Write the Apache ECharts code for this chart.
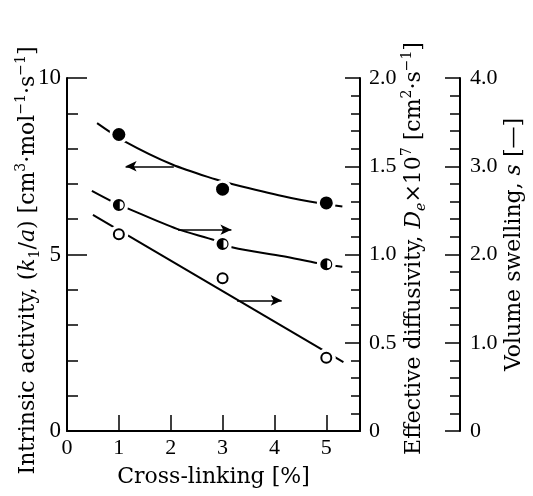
<!DOCTYPE html>
<html>
<head>
<meta charset="utf-8">
<script src="https://cdn.jsdelivr.net/npm/echarts@6/dist/echarts.min.js"></script>
<style>
  html, body { margin: 0; padding: 0; background: #fff; }
  #chart { width: 533px; height: 496px; }
</style>
</head>
<body>
<div id="chart"></div>
<script>
// measured points (cross-linking %, value)
const crossLinking = [1, 3, 5];
const activity = [8.4, 6.85, 6.46];      // k1/a, left axis
const diffusivity = [1.28, 1.06, 0.945]; // De x 10^7, right axis
const swelling = [2.23, 1.73, 0.83];     // s, outer right axis

// fitted curves
const activityCurve = [[0.58, 8.72], [1.12, 8.2], [2.03, 7.55], [2.86, 7.13], [3.2, 6.99], [4.17, 6.65], [4.88, 6.45], [5.31, 6.36]];
const diffusivityCurve = [[0.48, 1.36], [0.87, 1.3], [1.18, 1.26], [2.12, 1.145], [2.86, 1.08], [3.2, 1.04], [4.17, 0.99], [4.85, 0.95], [5.31, 0.93]];
const swellingLine = [[0.5, 2.45], [5.33, 0.78]];

// arrows pointing to the axis each series belongs to
const activityArrow = [[2.06, 7.5], [1.13, 7.5]];
const diffusivityArrow = [[2.14, 1.14], [3.17, 1.14]];
const swellingArrow = [[3.28, 1.48], [4.14, 1.48]];

const xTicks = [0, 1, 2, 3, 4, 5];

const serif = 'Liberation Serif, Times New Roman, serif';
const nameFont = 'DejaVu Serif';
const halfSymbol = 'path://M10,0A10,10 0 1,1 10,20A10,10 0 1,1 10,0Z M11.5,3.5L11.5,16.5A6.5,6.5 0 0,0 11.5,3.5Z';

const pts = (ys) => crossLinking.map((x, i) => [x, ys[i]]);

const nameRich = {
  n: { fontFamily: nameFont, fontSize: 22, lineHeight: 28, color: '#000' },
  i: { fontFamily: nameFont, fontSize: 22, lineHeight: 28, fontStyle: 'italic', color: '#000' },
  sup: { fontFamily: nameFont, fontSize: 14, lineHeight: 14, verticalAlign: 'top', color: '#000' },
  sub: { fontFamily: nameFont, fontSize: 14, lineHeight: 14, verticalAlign: 'bottom', color: '#000' },
  isub: { fontFamily: nameFont, fontSize: 14, lineHeight: 14, verticalAlign: 'bottom', fontStyle: 'italic', color: '#000' }
};

const blackLine = { lineStyle: { color: '#000', width: 2 } };

const arrow = (pair) => ({
  silent: true,
  symbol: ['none', 'arrow'],
  symbolSize: [8, 11],
  label: { show: false },
  lineStyle: { color: '#000', width: 1.5, type: 'solid' },
  data: [[{ coord: pair[0] }, { coord: pair[1] }]]
});

const halo = (yIdx, data) => ({
  type: 'scatter', yAxisIndex: yIdx, data, symbol: 'circle', symbolSize: 19, z: 5,
  itemStyle: { color: '#fff', opacity: 1 }, silent: true
});

const chart = echarts.init(document.getElementById('chart'));
chart.setOption({
  animation: false,
  backgroundColor: '#fff',
  grid: { left: 67, right: 173, top: 78, bottom: 65, outerBoundsMode: 'none', containLabel: false },
  xAxis: {
    type: 'value', min: 0, max: 5.65, interval: 1,
    name: 'Cross-linking [%]', nameLocation: 'middle', nameGap: 35, nameMoveOverlap: false,
    nameTextStyle: { fontFamily: nameFont, fontSize: 22, color: '#000' },
    axisLine: blackLine,
    axisTick: { inside: true, length: 16, lineStyle: { color: '#000', width: 1.5 } },
    axisLabel: {
      color: '#000', fontFamily: serif, fontSize: 22, margin: 6, showMaxLabel: false,
      formatter: (v) => (xTicks.indexOf(v) >= 0 ? String(v) : '')
    },
    splitLine: { show: false }
  },
  yAxis: [
    {
      type: 'value', position: 'left', min: 0, max: 10, interval: 5,
      name: '{n|Intrinsic activity, (}{i|k}{sub|1}{n|/}{i|a}{n|) [cm}{sup|3}{n|·mol}{sup|−1}{n|·s}{sup|−1}{n|]}',
      nameLocation: 'middle', nameRotate: 90, nameGap: 25, nameMoveOverlap: false,
      nameTextStyle: { rich: nameRich, padding: [0, 12, 0, 0] },
      axisLine: { show: true, lineStyle: { color: '#000', width: 2 } },
      axisTick: { inside: true, length: 20, lineStyle: { color: '#000', width: 1.5 } },
      minorTick: { show: true, splitNumber: 5, length: 11, lineStyle: { color: '#000', width: 1.5 } },
      axisLabel: { color: '#000', fontFamily: serif, fontSize: 23, margin: 6 },
      splitLine: { show: false }, minorSplitLine: { show: false }
    },
    {
      type: 'value', position: 'right', min: 0, max: 2, interval: 0.5,
      name: '{n|Effective diffusivity, }{i|D}{isub|e}{n|×10}{sup|7}{n| [cm}{sup|2}{n|·s}{sup|−1}{n|]}',
      nameLocation: 'middle', nameRotate: 90, nameGap: 40, nameMoveOverlap: false,
      nameTextStyle: { rich: nameRich, padding: [0, 0, 0, 12] },
      axisLine: { show: true, lineStyle: { color: '#000', width: 2 } },
      axisTick: { inside: true, length: 15, lineStyle: { color: '#000', width: 1.5 } },
      minorTick: { show: true, splitNumber: 5, length: 9, lineStyle: { color: '#000', width: 1.5 } },
      axisLabel: {
        color: '#000', fontFamily: serif, fontSize: 22, margin: 9,
        formatter: (v) => (v === 0 ? '0' : v.toFixed(1))
      },
      splitLine: { show: false }, minorSplitLine: { show: false }
    },
    {
      type: 'value', position: 'right', offset: 100, min: 0, max: 4, interval: 1,
      name: '{n|Volume swelling, }{i|s}{n| [—]}',
      nameLocation: 'middle', nameRotate: 90, nameGap: 40, nameMoveOverlap: false,
      nameTextStyle: { rich: nameRich, padding: [0, 0, 0, 20] },
      axisLine: { show: true, lineStyle: { color: '#000', width: 2 } },
      axisTick: { inside: true, length: 15, lineStyle: { color: '#000', width: 1.5 } },
      minorTick: { show: true, splitNumber: 5, length: 10, lineStyle: { color: '#000', width: 1.5 } },
      axisLabel: {
        color: '#000', fontFamily: serif, fontSize: 22, margin: 10,
        formatter: (v) => (v === 0 ? '0' : v.toFixed(1))
      },
      splitLine: { show: false }, minorSplitLine: { show: false }
    }
  ],
  series: [
    {
      type: 'line', yAxisIndex: 0, data: activityCurve, smooth: 0.3, showSymbol: false, z: 2,
      lineStyle: { color: '#000', width: 2 }, markLine: arrow(activityArrow)
    },
    {
      type: 'line', yAxisIndex: 1, data: diffusivityCurve, smooth: 0.3, showSymbol: false, z: 2,
      lineStyle: { color: '#000', width: 2 }, markLine: arrow(diffusivityArrow)
    },
    {
      type: 'line', yAxisIndex: 2, data: swellingLine, showSymbol: false, z: 2,
      lineStyle: { color: '#000', width: 2 }, markLine: arrow(swellingArrow)
    },
    halo(0, pts(activity)),
    halo(1, pts(diffusivity)),
    halo(2, pts(swelling)),
    {
      type: 'scatter', yAxisIndex: 0, data: pts(activity), symbol: 'circle', symbolSize: 13, z: 6,
      itemStyle: { color: '#000', opacity: 1 }
    },
    {
      type: 'scatter', yAxisIndex: 1, data: pts(diffusivity), symbol: halfSymbol, symbolSize: 12, z: 6,
      itemStyle: { color: '#000', opacity: 1 }
    },
    {
      type: 'scatter', yAxisIndex: 2, data: pts(swelling), symbol: 'circle', symbolSize: 10, z: 6,
      itemStyle: { color: '#fff', borderColor: '#000', borderWidth: 2, opacity: 1 }
    }
  ]
});
</script>
</body>
</html>
